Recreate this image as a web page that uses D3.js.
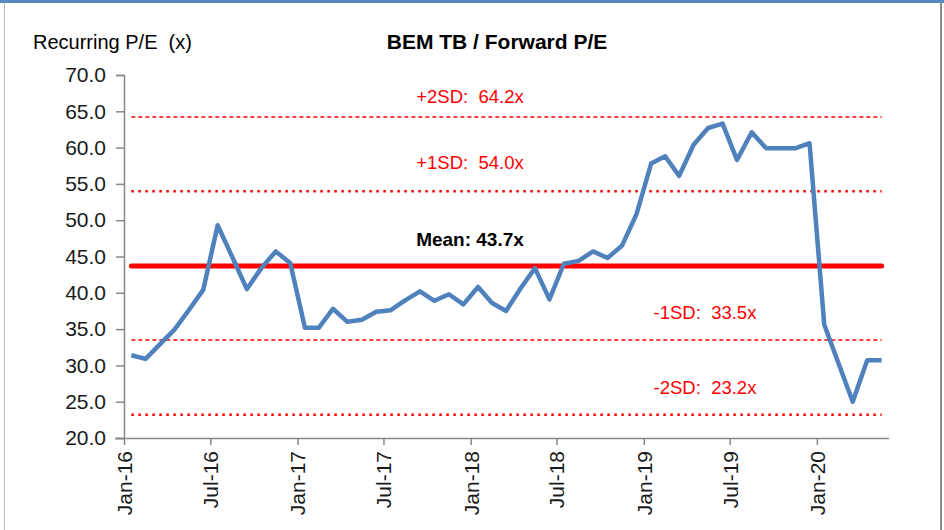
<!DOCTYPE html>
<html lang="en">

<head>
    <meta charset="UTF-8">
    <script src="https://d3js.org/d3.v7.min.js"></script>
    <style>
        body {
            margin: 0;
            background: white;
        }

        text {
            font-family: "Liberation Sans", Arial, sans-serif;
        }
    </style>
</head>

<body>
    <svg id="chart" width="944" height="530"></svg>

    <script>
        // monthly forward P/E, Jan-16 .. May-20
        const peValues = [
            31.4, 30.9, 32.9, 34.9, 37.6, 40.4, 49.3, 44.9, 40.5, 43.4, 45.7, 44.1,
            35.2, 35.2, 37.8, 36.0, 36.3, 37.4, 37.6, 39.0, 40.2, 38.9, 39.8, 38.4,
            40.8, 38.6, 37.5, 40.6, 43.4, 39.1, 44.0, 44.4, 45.7, 44.8, 46.5, 50.8,
            57.8, 58.8, 56.1, 60.4, 62.7, 63.3, 58.3, 62.1, 59.9, 59.9, 59.9, 60.6,
            35.6, 30.3, 25.0, 30.7, 30.7
        ];
        const months = d3.timeMonth.range(new Date(2016, 0, 1), new Date(2016, peValues.length, 1));

        const bandNames = ["+2SD", "+1SD", "Mean", "-1SD", "-2SD"];
        const bandValues = [64.2, 54.0, 43.7, 33.5, 23.2];

        const yTicks = [20, 25, 30, 35, 40, 45, 50, 55, 60, 65, 70];

        const svg = d3.select("#chart");

        // window frame
        svg.append("rect").attr("x", 0).attr("y", 0).attr("width", 944).attr("height", 3).attr("fill", "#5b87c0");
        svg.append("line").attr("x1", 4.5).attr("x2", 4.5).attr("y1", 3).attr("y2", 530).attr("stroke", "#b8b8b8");
        svg.append("line").attr("x1", 941).attr("x2", 941).attr("y1", 3).attr("y2", 530).attr("stroke", "#8c8c8c").attr("stroke-width", 2);

        const x = d3.scaleTime()
            .domain([new Date(2016, 0, 1), new Date(2020, 5, 1)])
            .range([124, 889]);
        const y = d3.scaleLinear().domain([20, 70]).range([438, 75]);

        // points sit in the middle of each month
        const xMid = d => (x(d) + x(d3.timeMonth.offset(d, 1))) / 2;

        const data = months.map((d, i) => ({ date: d, value: peValues[i] }));

        // axes
        const yAxis = svg.append("g")
            .attr("transform", "translate(124,0)")
            .call(d3.axisLeft(y).tickValues(yTicks).tickFormat(d3.format(".1f")).tickSize(8).tickPadding(10));
        yAxis.select(".domain").attr("stroke", "#888").attr("stroke-width", 1.5);
        yAxis.selectAll(".tick line").attr("stroke", "#888").attr("stroke-width", 1.5);
        yAxis.selectAll(".tick text").attr("fill", "#1a1a1a").style("font-size", "21px");

        const xAxis = svg.append("g")
            .attr("transform", "translate(0,438)")
            .call(d3.axisBottom(x).ticks(d3.timeMonth.every(6)).tickFormat(d3.timeFormat("%b-%y")).tickSize(7).tickSizeOuter(0));
        xAxis.select(".domain").attr("stroke", "#888").attr("stroke-width", 1.5).attr("d", "M115,0.5H889");
        xAxis.selectAll(".tick line").attr("stroke", "#888").attr("stroke-width", 1.5);
        xAxis.selectAll(".tick text")
            .attr("fill", "#1a1a1a")
            .style("font-size", "21px")
            .attr("text-anchor", "end")
            .attr("transform", "rotate(-90)")
            .attr("x", -13)
            .attr("y", 0)
            .attr("dy", "0.35em");

        // SD bands
        const x0 = xMid(months[0]);
        const x1 = xMid(months[months.length - 1]);
        const bandStyle = [
            { w: 1.5, dash: "4,3" },
            { w: 2.5, dash: "2.5,4.5" },
            { w: 5, dash: null },
            { w: 1.5, dash: "4,3" },
            { w: 2.5, dash: "2.5,4.5" }
        ];
        svg.append("g").selectAll("line")
            .data(bandValues)
            .join("line")
            .attr("x1", x0)
            .attr("x2", x1)
            .attr("y1", d => y(d))
            .attr("y2", d => y(d))
            .attr("stroke", "#ff0000")
            .attr("stroke-width", (d, i) => bandStyle[i].w)
            .attr("stroke-linecap", (d, i) => i == 2 ? "round" : "butt")
            .attr("stroke-dasharray", (d, i) => bandStyle[i].dash);

        // P/E line
        const line = d3.line()
            .x(d => xMid(d.date))
            .y(d => y(d.value));
        svg.append("path")
            .datum(data)
            .attr("d", line)
            .attr("fill", "none")
            .attr("stroke", "#4f81bd")
            .attr("stroke-width", 4.5)
            .attr("stroke-linejoin", "round");

        // band labels
        const labelX = [470, 470, 470, 705, 705];
        const labelGap = [14, 22, 20, 21, 21];
        svg.append("g").selectAll("text")
            .data(bandValues)
            .join("text")
            .attr("x", (d, i) => labelX[i])
            .attr("y", (d, i) => y(d) - labelGap[i])
            .attr("text-anchor", "middle")
            .attr("fill", (d, i) => i == 2 ? "#000" : "#ff0000")
            .style("font-size", (d, i) => i == 2 ? "19px" : "18.5px")
            .style("font-weight", (d, i) => i == 2 ? "bold" : "normal")
            .style("white-space", "pre")
            .text((d, i) => i == 2 ? `${bandNames[i]}: ${d.toFixed(1)}x` : `${bandNames[i]}:  ${d.toFixed(1)}x`);

        // titles
        svg.append("text")
            .attr("x", 497)
            .attr("y", 49)
            .attr("text-anchor", "middle")
            .style("font-size", "21px")
            .style("font-weight", "bold")
            .text("BEM TB / Forward P/E");
        svg.append("text")
            .attr("x", 33)
            .attr("y", 49)
            .style("font-size", "20px")
            .style("white-space", "pre")
            .text("Recurring P/E  (x)");
    </script>
</body>

</html>
